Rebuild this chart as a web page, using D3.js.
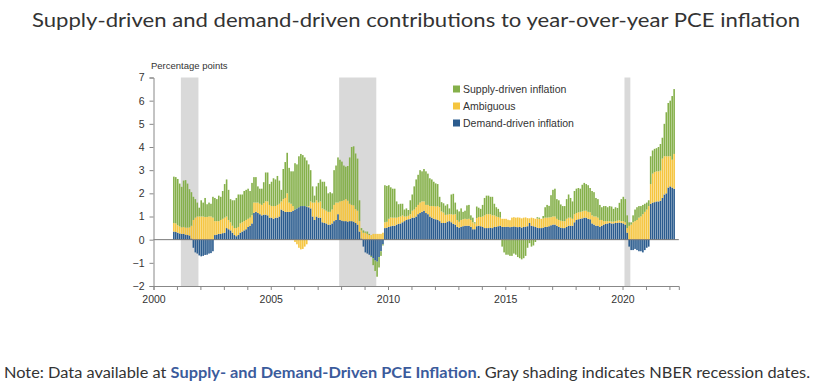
<!DOCTYPE html>
<html>
<head>
<meta charset="utf-8">
<script src="https://cdn.jsdelivr.net/npm/d3@7"></script>
<style>
  body { margin: 0; background: #fff; }
  svg { display: block; }
</style>
</head>
<body>
<div id="chart"></div>
<script>
// Supply- and demand-driven contributions to y/y PCE inflation, monthly Nov 2000 - Mar 2022

// first observation
let startYear = 2000, startMonth = 11;

// contributions in percentage points, one row per calendar year
let demand = [
  0.35, 0.33,
  0.30, 0.27, 0.25, 0.25, 0.22, 0.20, 0.18, 0.05, -0.35, -0.55, -0.60, -0.68,
  -0.72, -0.70, -0.66, -0.65, -0.60, -0.58, -0.50, 0.20, 0.22, 0.25, 0.25, 0.28,
  0.30, 0.50, 0.45, 0.40, 0.30, 0.20, 0.15, 0.20, 0.30, 0.35, 0.40, 0.45,
  0.55, 0.60, 0.70, 1.15, 1.20, 1.15, 1.10, 1.05, 1.08, 1.08, 1.05, 0.95,
  0.95, 0.90, 0.95, 0.95, 1.00, 1.30, 1.25, 1.20, 1.20, 1.20, 1.20, 1.25,
  1.30, 1.35, 1.40, 1.45, 1.45, 1.45, 1.42, 1.40, 1.35, 1.00, 0.85, 1.00,
  0.95, 0.95, 0.75, 0.72, 0.70, 0.65, 0.65, 0.70, 0.80, 0.85, 1.10, 0.85,
  0.82, 0.80, 0.80, 0.78, 0.80, 0.80, 0.78, 0.72, 0.65, 0.35, 0.05, -0.30,
  -0.55, -0.60, -0.65, -0.70, -0.80, -0.90, -0.95, -0.75, -0.50, -0.20, 0.50, 0.52,
  0.55, 0.58, 0.60, 0.60, 0.65, 0.68, 0.70, 0.75, 0.80, 0.85, 0.88, 0.90,
  0.95, 0.95, 1.00, 1.10, 1.15, 1.20, 1.25, 1.15, 1.10, 1.00, 0.95, 0.90,
  0.88, 0.85, 0.80, 0.72, 0.72, 0.72, 0.78, 0.80, 0.75, 0.68, 0.65, 0.55,
  0.52, 0.55, 0.58, 0.60, 0.60, 0.60, 0.55, 0.45, 0.45, 0.58, 0.60, 0.58,
  0.55, 0.50, 0.50, 0.50, 0.52, 0.50, 0.55, 0.55, 0.58, 0.60, 0.55, 0.55,
  0.55, 0.56, 0.54, 0.55, 0.57, 0.55, 0.54, 0.55, 0.52, 0.55, 0.56, 0.58,
  0.72, 0.60, 0.58, 0.55, 0.52, 0.50, 0.50, 0.52, 0.55, 0.55, 0.58, 0.62,
  0.65, 0.65, 0.60, 0.55, 0.52, 0.50, 0.50, 0.55, 0.60, 0.60, 0.60, 0.75,
  0.85, 0.88, 0.90, 0.92, 0.95, 0.95, 0.90, 0.88, 0.70, 0.65, 0.60, 0.60,
  0.55, 0.60, 0.65, 0.68, 0.70, 0.72, 0.70, 0.70, 0.72, 0.72, 0.74, 0.72,
  0.70, 0.65, 0.30, -0.30, -0.45, -0.45, -0.40, -0.45, -0.50, -0.50, -0.55, -0.45,
  -0.35, -0.30, 1.55, 1.60, 1.62, 1.65, 1.65, 1.68, 1.80, 1.95, 2.00, 2.25,
  2.30, 2.25, 2.20
];

let ambiguous = [
  0.37, 0.37,
  0.32, 0.30, 0.28, 0.30, 0.30, 0.32, 0.35, 0.55, 0.85, 0.95, 1.00, 1.00,
  1.00, 1.00, 0.98, 0.98, 1.00, 1.00, 0.95, 0.60, 0.58, 0.55, 0.60, 0.62,
  0.65, 0.50, 0.40, 0.35, 0.30, 0.30, 0.35, 0.35, 0.40, 0.40, 0.40, 0.40,
  0.35, 0.35, 0.35, 0.45, 0.40, 0.45, 0.45, 0.45, 0.50, 0.58, 0.60, 0.55,
  0.50, 0.55, 0.50, 0.55, 0.55, 0.35, 0.50, 0.60, 0.80, 0.40, 0.35, 0.20,
  -0.10, -0.20, -0.35, -0.42, -0.40, -0.30, -0.20, 0.05, 0.30, 0.60, 0.75, 0.70,
  0.65, 0.70, 0.60, 0.58, 0.55, 0.55, 0.55, 0.60, 0.70, 0.75, 0.50, 0.80,
  0.85, 0.90, 0.95, 0.90, 0.75, 0.70, 0.70, 0.60, 0.60, 0.45, 0.35, 0.30,
  0.30, 0.25, 0.20, 0.20, 0.25, 0.25, 0.25, 0.25, 0.25, 0.30, 0.25, 0.25,
  0.35, 0.38, 0.35, 0.35, 0.30, 0.30, 0.30, 0.30, 0.20, 0.15, 0.15, 0.20,
  0.30, 0.35, 0.40, 0.40, 0.45, 0.45, 0.40, 0.35, 0.40, 0.45, 0.50, 0.55,
  0.55, 0.60, 0.60, 0.50, 0.45, 0.35, 0.30, 0.30, 0.35, 0.40, 0.45, 0.30,
  0.25, 0.30, 0.30, 0.30, 0.28, 0.30, 0.30, 0.30, 0.25, 0.35, 0.38, 0.40,
  0.45, 0.55, 0.60, 0.60, 0.58, 0.55, 0.50, 0.45, 0.40, 0.35, 0.35, 0.35,
  0.35, 0.30, 0.30, 0.40, 0.40, 0.40, 0.42, 0.40, 0.40, 0.40, 0.40, 0.35,
  0.20, 0.35, 0.35, 0.35, 0.40, 0.40, 0.40, 0.40, 0.40, 0.40, 0.38, 0.35,
  0.35, 0.35, 0.30, 0.30, 0.30, 0.30, 0.30, 0.35, 0.35, 0.35, 0.30, 0.35,
  0.30, 0.30, 0.30, 0.30, 0.30, 0.30, 0.30, 0.30, 0.35, 0.35, 0.40, 0.35,
  0.30, 0.25, 0.15, 0.12, 0.10, 0.08, 0.08, 0.08, 0.08, 0.10, 0.10, 0.08,
  0.10, 0.10, 0.20, 0.60, 0.65, 0.75, 0.80, 0.85, 0.95, 1.00, 1.10, 1.20,
  1.30, 1.45, 0.85, 1.25, 1.30, 1.30, 1.30, 1.30, 1.70, 1.65, 1.60, 1.35,
  1.30, 1.20, 1.50
];

let supply = [
  2.00, 2.00,
  2.00, 1.85, 1.75, 2.00, 2.05, 1.90, 1.65, 1.45, 1.00, 0.80, 0.60, 0.38,
  0.70, 0.60, 0.82, 0.55, 0.60, 0.55, 0.90, 1.00, 0.95, 1.10, 1.00, 1.20,
  1.45, 1.60, 1.30, 1.00, 1.10, 1.20, 1.30, 1.40, 1.25, 1.20, 1.30, 1.30,
  1.30, 1.15, 1.40, 1.10, 1.10, 0.70, 0.65, 0.70, 0.90, 1.24, 1.25, 0.90,
  1.05, 1.20, 1.15, 1.25, 1.00, 0.50, 1.30, 1.55, 1.75, 1.50, 1.40, 1.50,
  2.00, 1.90, 2.20, 2.25, 2.20, 2.10, 2.00, 1.80, 1.35, 0.70, 0.30, 0.60,
  0.85, 0.95, 1.15, 1.20, 1.05, 0.80, 0.85, 0.70, 1.50, 1.60, 1.95, 1.80,
  1.70, 1.50, 1.40, 1.50, 2.00, 2.50, 2.55, 2.40, 2.25, 0.90, 0.10, 0.10,
  0.05, 0.10, 0.05, -0.05, -0.30, -0.45, -0.65, -0.45, -0.20, -0.05, 1.60, 1.55,
  1.45, 1.30, 1.25, 1.25, 0.70, 0.55, 0.55, 0.50, 0.30, 0.35, 0.25, 0.60,
  0.70, 1.00, 1.20, 1.30, 1.40, 1.30, 1.40, 1.45, 1.35, 1.20, 1.15, 1.05,
  1.00, 0.95, 0.45, 0.40, 0.40, 0.40, 0.45, 0.25, 0.85, 0.90, 0.50, 0.45,
  0.45, 0.50, 0.32, 0.35, 0.60, 0.60, 0.20, 0.20, 0.05, 0.50, 0.40, 0.35,
  0.50, 0.75, 0.80, 0.80, 0.75, 0.80, 0.50, 0.40, 0.35, 0.25, -0.30, -0.55,
  -0.65, -0.65, -0.70, -0.70, -0.60, -0.65, -0.75, -0.80, -0.85, -0.80, -0.70, -0.35,
  -0.15, -0.30, -0.25, -0.10, 0.05, 0.05, 0.00, 0.10, 0.45, 0.55, 0.50, 0.95,
  1.15, 1.20, 0.85, 0.85, 0.70, 0.65, 0.65, 0.85, 1.00, 0.85, 0.75, 1.00,
  1.05, 1.05, 1.00, 1.15, 1.20, 1.15, 1.15, 1.05, 1.05, 1.05, 0.80, 0.80,
  0.65, 0.55, 0.65, 0.65, 0.60, 0.65, 0.65, 0.55, 0.60, 0.55, 0.75, 0.95,
  1.05, 1.00, 0.55, 0.15, 0.10, 0.30, 0.50, 0.55, 0.50, 0.45, 0.40, 0.35,
  0.30, 0.25, 1.20, 1.00, 1.00, 1.00, 1.05, 1.15, 0.90, 1.40, 1.90, 2.30,
  2.40, 2.75, 2.80
];

// NBER recessions as [start, end] in fractional years
let recessions = [[2001 + 2/12, 2001 + 11/12], [2007 + 11/12, 2009 + 6/12], [2020 + 1/12, 2020 + 4/12]];

let seriesKeys = ["demand", "ambiguous", "supply"];
let seriesLabels = ["Demand-driven inflation", "Ambiguous", "Supply-driven inflation"];
let colors = ["#2b5c8e", "#f5c53f", "#85b04a"];

let yTicks = [-2, -1, 0, 1, 2, 3, 4, 5, 6, 7];
let xLabelYears = [2000, 2005, 2010, 2015, 2020];

let drawChart = function(){
    let width = 832, height = 385;

    let svg = d3.select("#chart").append("svg")
        .attr("width", width)
        .attr("height", height)
        .attr("xmlns", "http://www.w3.org/2000/svg");

    let chartFont = "'Liberation Sans', Arial, sans-serif";

    // title
    svg.append("text")
        .attr("x", 416).attr("y", 27)
        .attr("text-anchor", "middle")
        .attr("textLength", 768).attr("lengthAdjust", "spacingAndGlyphs")
        .style("font-family", "Lato, 'Open Sans', sans-serif")
        .style("font-size", "18.5px")
        .style("fill", "#333")
        .text("Supply-driven and demand-driven contributions to year-over-year PCE inflation");

    let xScale = d3.scaleLinear().domain([2000, 2022.4]).range([153.5, 678.8]);
    let yScale = d3.scaleLinear().domain([-2, 7]).range([286, 77.5]);

    // table for the stack
    let rows = demand.map(function(d, i){
        let m = startMonth - 1 + i;
        return {
            t: startYear + m / 12,
            demand: d,
            ambiguous: ambiguous[i],
            supply: supply[i]
        };
    });

    // recession shading
    svg.append("g").selectAll("rect").data(recessions).enter().append("rect")
        .attr("x", function(d){ return xScale(d[0]); })
        .attr("width", function(d){ return xScale(d[1]) - xScale(d[0]); })
        .attr("y", yScale(7))
        .attr("height", yScale(-2) - yScale(7))
        .attr("fill", "#d9d9d9");

    let stack = d3.stack().keys(seriesKeys).offset(d3.stackOffsetDiverging);
    let layers = stack(rows);
    let step = xScale(1 / 12) - xScale(0);

    svg.append("g").selectAll("g").data(layers).enter().append("g")
        .attr("fill", function(d, i){ return colors[i]; })
      .selectAll("rect").data(function(d){ return d; }).enter().append("rect")
        .attr("x", function(d){ return xScale(d.data.t); })
        .attr("width", step * 0.82)
        .attr("y", function(d){ return yScale(Math.max(d[0], d[1])); })
        .attr("height", function(d){ return Math.abs(yScale(d[0]) - yScale(d[1])); });

    // zero line
    svg.append("line")
        .attr("x1", xScale(2000)).attr("x2", xScale(2022.4))
        .attr("y1", yScale(0)).attr("y2", yScale(0))
        .attr("stroke", "#777").attr("stroke-width", 1);

    // y axis
    let yAxis = svg.append("g")
        .attr("transform", "translate(" + xScale(2000) + ",0)")
        .call(d3.axisLeft(yScale).tickValues(yTicks).tickSize(4).tickPadding(5));
    yAxis.select(".domain").attr("stroke", "#888");
    yAxis.selectAll(".tick line").attr("stroke", "#888");
    yAxis.selectAll("text").style("font-family", chartFont).style("font-size", "10.5px").style("fill", "#333");

    // x axis: a tick each year, labels every five
    let xAxis = svg.append("g")
        .attr("transform", "translate(0," + yScale(-2) + ")")
        .call(d3.axisBottom(xScale).tickValues(d3.range(2000, 2023)).tickSize(4).tickPadding(6)
            .tickFormat(function(d){ return xLabelYears.indexOf(d) >= 0 ? d : ""; }));
    xAxis.select(".domain").attr("stroke", "#888");
    xAxis.selectAll(".tick line").attr("stroke", "#888");
    xAxis.selectAll("text").style("font-family", chartFont).style("font-size", "10.5px").style("fill", "#333");

    // unit label
    svg.append("text")
        .attr("x", 151).attr("y", 69)
        .style("font-family", chartFont).style("font-size", "9.5px").style("fill", "#333")
        .text("Percentage points");

    // legend, top entry is supply
    let legendOrder = [2, 1, 0];
    let legend = svg.selectAll(".legend").data(legendOrder).enter().append("g")
        .attr("class", "legend")
        .attr("transform", function(d, i){ return "translate(453," + (89 + i * 17) + ")"; });
    legend.append("rect")
        .attr("x", 0).attr("y", -3.5).attr("width", 7).attr("height", 7)
        .attr("fill", function(d){ return colors[d]; });
    legend.append("text")
        .attr("x", 10).attr("y", 4)
        .style("font-family", chartFont).style("font-size", "10.5px").style("fill", "#333")
        .text(function(d){ return seriesLabels[d]; });

    // note
    let note = svg.append("text")
        .attr("x", 4).attr("y", 378)
        .attr("textLength", 806).attr("lengthAdjust", "spacingAndGlyphs")
        .style("font-family", "Lato, 'Open Sans', sans-serif")
        .style("font-size", "14.5px")
        .style("fill", "#333");
    note.append("tspan").text("Note: Data available at ");
    note.append("tspan").style("fill", "#3b5b9c").style("font-weight", "bold")
        .text("Supply- and Demand-Driven PCE Inflation");
    note.append("tspan").text(". Gray shading indicates NBER recession dates.");
};

drawChart();
</script>
</body>
</html>
